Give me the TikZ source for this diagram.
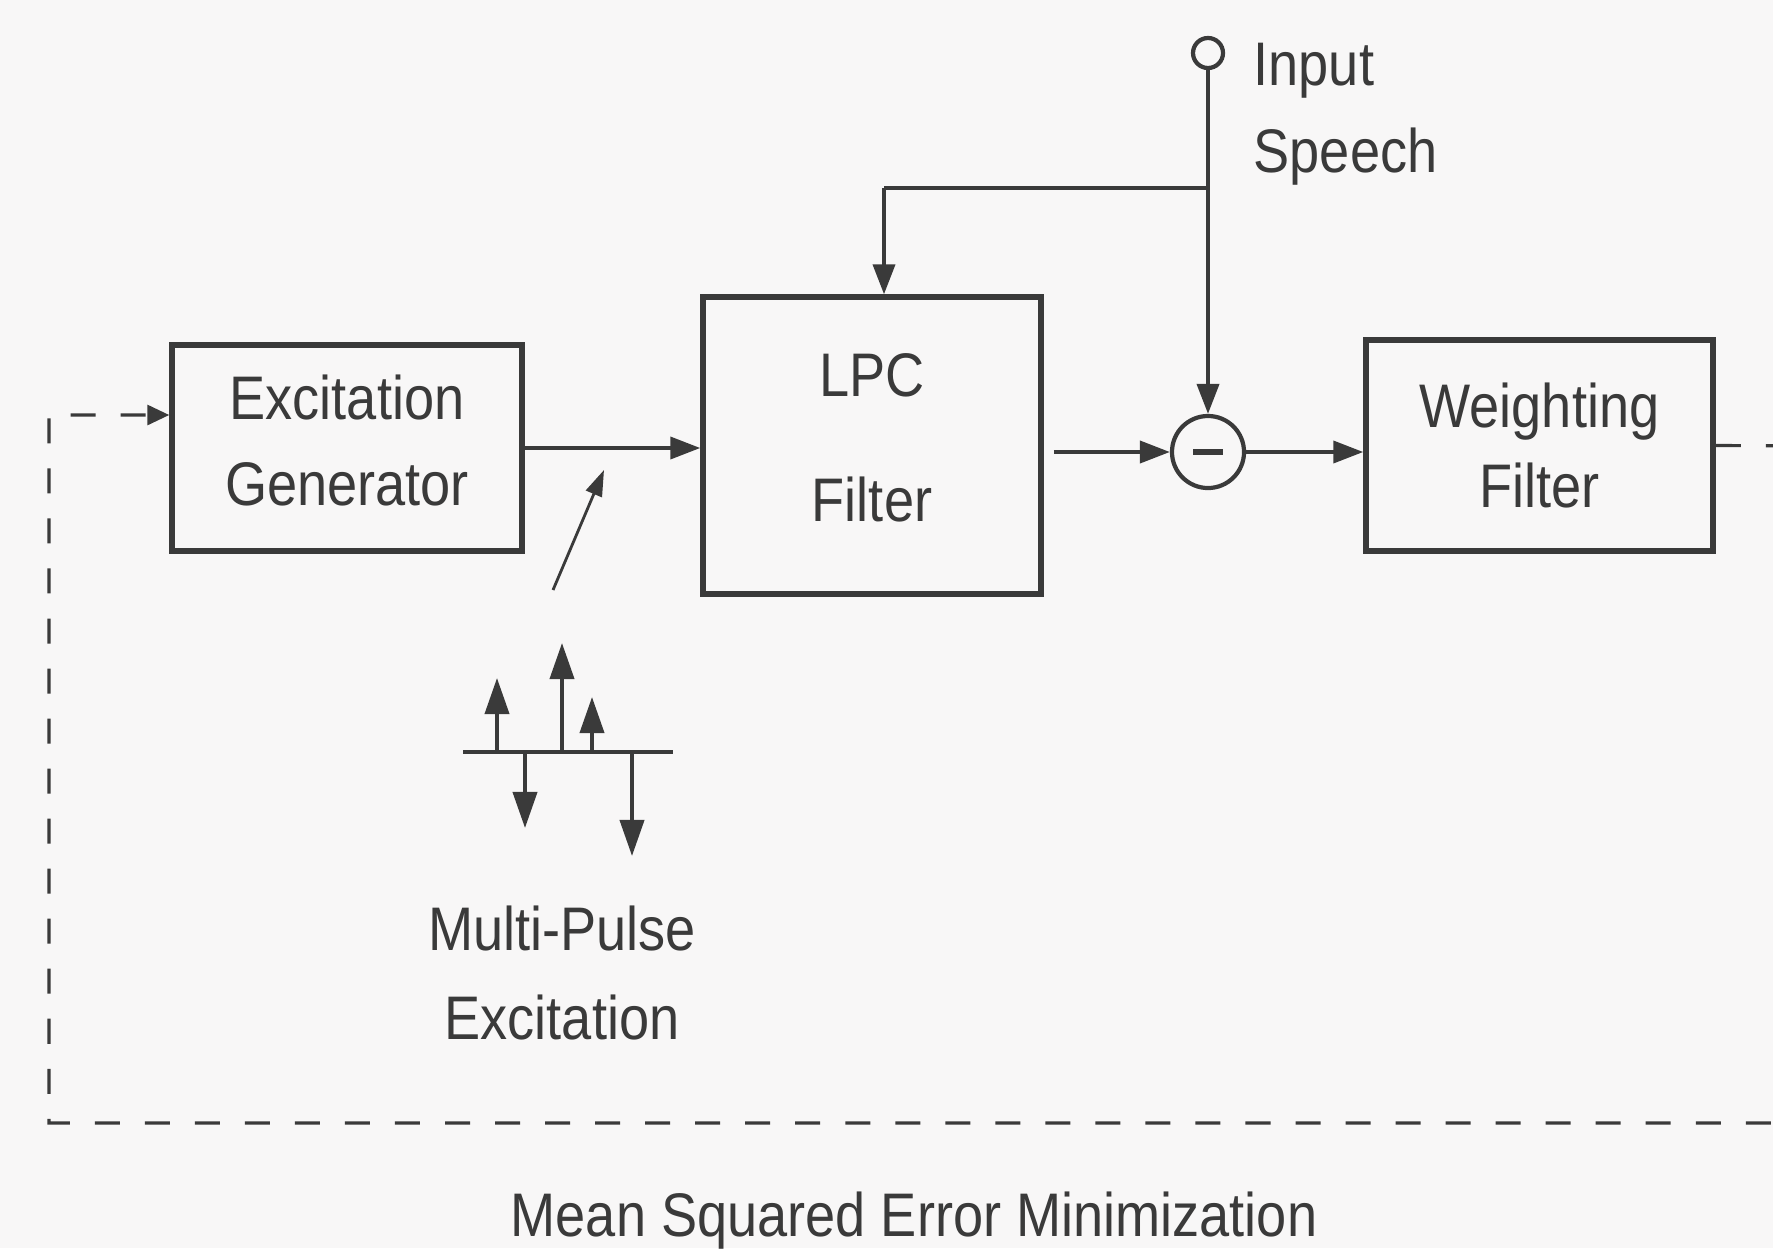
\documentclass[tikz,border=0pt]{standalone}
\usepackage{fontspec}
\setmainfont{Liberation Sans}[FakeStretch=0.88]
\usetikzlibrary{arrows.meta,calc}
\definecolor{ink}{HTML}{3A3A3A}
\definecolor{paper}{HTML}{F8F7F7}
\begin{document}
\begin{tikzpicture}[x=0.01cm,y=-0.01cm,
  every node/.style={text=ink},
  txt/.style={font=\fontsize{17.5}{24.5}\selectfont, align=center, inner sep=0pt},
  box/.style={draw=ink, line width=1.5pt, inner sep=0pt, align=center, font=\fontsize{17.5}{24.5}\selectfont},
  arr/.style={draw=ink, line width=1.1pt, -{Triangle[length=0.3cm,width=0.22cm]}},
  thinarr/.style={draw=ink, line width=0.8pt, -{Triangle[length=0.26cm,width=0.17cm]}},
  pulse/.style={draw=ink, line width=1.1pt, -{Triangle[length=0.36cm,width=0.24cm]}},
  dashline/.style={draw=ink, line width=0.9pt, dash pattern=on 0.25cm off 0.25cm, -{Triangle[length=0.22cm,width=0.2cm]}},
  circ/.style={circle, draw=ink, line width=1.2pt, inner sep=0pt}
]
\useasboundingbox (0,0) rectangle (1773,1248);
\fill[paper] (0,0) rectangle (1773,1248);
\clip (0,0) rectangle (1773,1248);

% blocks
\node[box, minimum width=3.5cm, minimum height=2.06cm, text depth=0.16cm] (exc) at (347,448) {Excitation\\Generator};
\node[box, minimum width=3.38cm, minimum height=2.97cm, text depth=0.16cm, font=\fontsize{17.5}{24.5}\selectfont] (lpc) at (872,445.5) {LPC\\[11pt]Filter};
\node[box, minimum width=3.47cm, minimum height=2.11cm, font=\fontsize{17.5}{23}\selectfont] (wf) at (1539.5,445.5) {Weighting\\Filter};

% summing junction and input
\node[circ, minimum size=0.72cm] (sum) at (1208,452) {};
\draw[ink, line width=1.7pt] ($(sum)+(-15,0)$) -- ($(sum)+(15,0)$);
\node[circ, minimum size=0.3cm] (in) at (1208,53) {};
\node[txt, anchor=west, align=left, font=\fontsize{17.5}{24.7}\selectfont] (inlab) at (1253,114) {Input\\Speech};

\coordinate (j) at (1208,188);
\coordinate (jl) at (884,188);

% connectors
\draw[arr] (exc.east) -- (exc.east -| lpc.west);
\draw[arr, shorten <=0.1cm] (lpc.east |- sum) -- (sum.west);
\draw[arr] (sum.east) -- (sum.east -| wf.west);
\draw[arr] (in.south) -- (sum.north);
\draw[draw=ink, line width=1.1pt] (j) -- (jl);
\draw[arr] (jl) -- (jl |- lpc.north);

% multipulse pointer
\coordinate (d1) at (553,590);
\coordinate (d2) at (604,470);
\draw[thinarr] (d1) -- (d2);

% pulse train
\coordinate (b1) at (463,752);
\coordinate (b2) at (673,752);
\draw[ink, line width=1.2pt] (b1) -- (b2);
\draw[pulse] (497,752) -- (497,678);
\draw[pulse] (562,752) -- (562,643);
\draw[pulse] (592,752) -- (592,697);
\draw[pulse] (525,752) -- (525,828);
\draw[pulse] (632,752) -- (632,856);

\node[txt, font=\fontsize{17.5}{25.3}\selectfont] (mp) at (562,973) {Multi-Pulse\\Excitation};

% feedback loop
\coordinate (r1) at (1830,446);
\coordinate (r2) at (1830,1123);
\coordinate (l1) at (49,1123);
\coordinate (l2) at (49,415);
\draw[dashline] (wf.east) -- (r1) -- (r2) -- (l1) -- (l2) -- (l2 -| exc.west);

\node[txt] (mse) at (914,1221) {Mean Squared Error Minimization};
\end{tikzpicture}
\end{document}
